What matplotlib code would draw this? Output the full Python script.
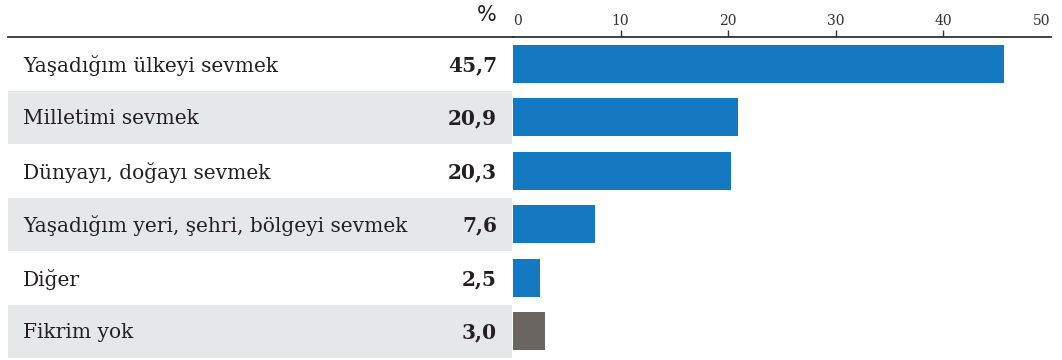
import matplotlib
matplotlib.use("Agg")
import matplotlib.pyplot as plt
import matplotlib.transforms as mtransforms
from matplotlib.patches import Rectangle

# Veriler
categories = [
    "Yaşadığım ülkeyi sevmek",
    "Milletimi sevmek",
    "Dünyayı, doğayı sevmek",
    "Yaşadığım yeri, şehri, bölgeyi sevmek",
    "Diğer",
    "Fikrim yok",
]
values = [45.7, 20.9, 20.3, 7.6, 2.5, 3.0]
bar_colors = ["#1479c0"] * 5 + ["#6b6561"]
xticks = [0, 10, 20, 30, 40, 50]

W, H = 1062, 360
fig = plt.figure(figsize=(W / 100, H / 100), dpi=100)
plt.rcParams["font.family"] = ["DejaVu Serif"]

# eksen: 0 -> x=513 px, 50 -> x=1050 px
ax = fig.add_axes([513 / W, 2 / H, 537.5 / W, (358 - 37) / H])
n = len(categories)
ax.set_xlim(0, 50)
ax.set_ylim(n - 0.5, -0.5)

trans = mtransforms.blended_transform_factory(fig.transFigure, ax.transData)

for i, (cat, val, col) in enumerate(zip(categories, values, bar_colors)):
    if i % 2 == 1:
        ax.add_patch(Rectangle((8 / W, i - 0.5), (512 - 8) / W, 1.0,
                               transform=trans, facecolor="#e6e7e8",
                               edgecolor="none", clip_on=False, zorder=0))
    ax.barh(i, val, height=0.71, color=col, zorder=2)
    fig.text(23 / W, i + 0.03, cat, transform=trans, ha="left", va="center",
             fontsize=14.5, color="#231f20")
    fig.text(497 / W, i + 0.03, f"{val:.1f}".replace(".", ","),
             transform=trans, ha="right", va="center", fontsize=14.5,
             fontweight="bold", color="#231f20")

# üst çizgi ve işaretler
for s in ["right", "bottom", "left"]:
    ax.spines[s].set_visible(False)
ax.spines["top"].set_color("#333333")
ax.spines["top"].set_linewidth(1.3)
fig.add_artist(plt.Line2D([8 / W, 513 / W], [1 - 37 / H, 1 - 37 / H],
                          color="#333333", linewidth=1.3))
ax.xaxis.tick_top()
ax.set_xticks(xticks)
ax.set_xticklabels([str(t) for t in xticks])
ax.tick_params(axis="x", direction="out", length=5, width=1, pad=1.5,
               labelsize=10, colors="#333333")
ax.set_yticks([])
ticks = ax.xaxis.get_major_ticks()
for t in (ticks[0], ticks[-1]):
    t.tick2line.set_visible(False)
ticks[0].label2.set_horizontalalignment("left")
ticks[-1].label2.set_horizontalalignment("right")

fig.text(497 / W, 1 - 15 / H, "%", ha="right", va="center", fontsize=15,
         color="#231f20", family="DejaVu Sans")

fig.savefig("out.png", dpi=100)
